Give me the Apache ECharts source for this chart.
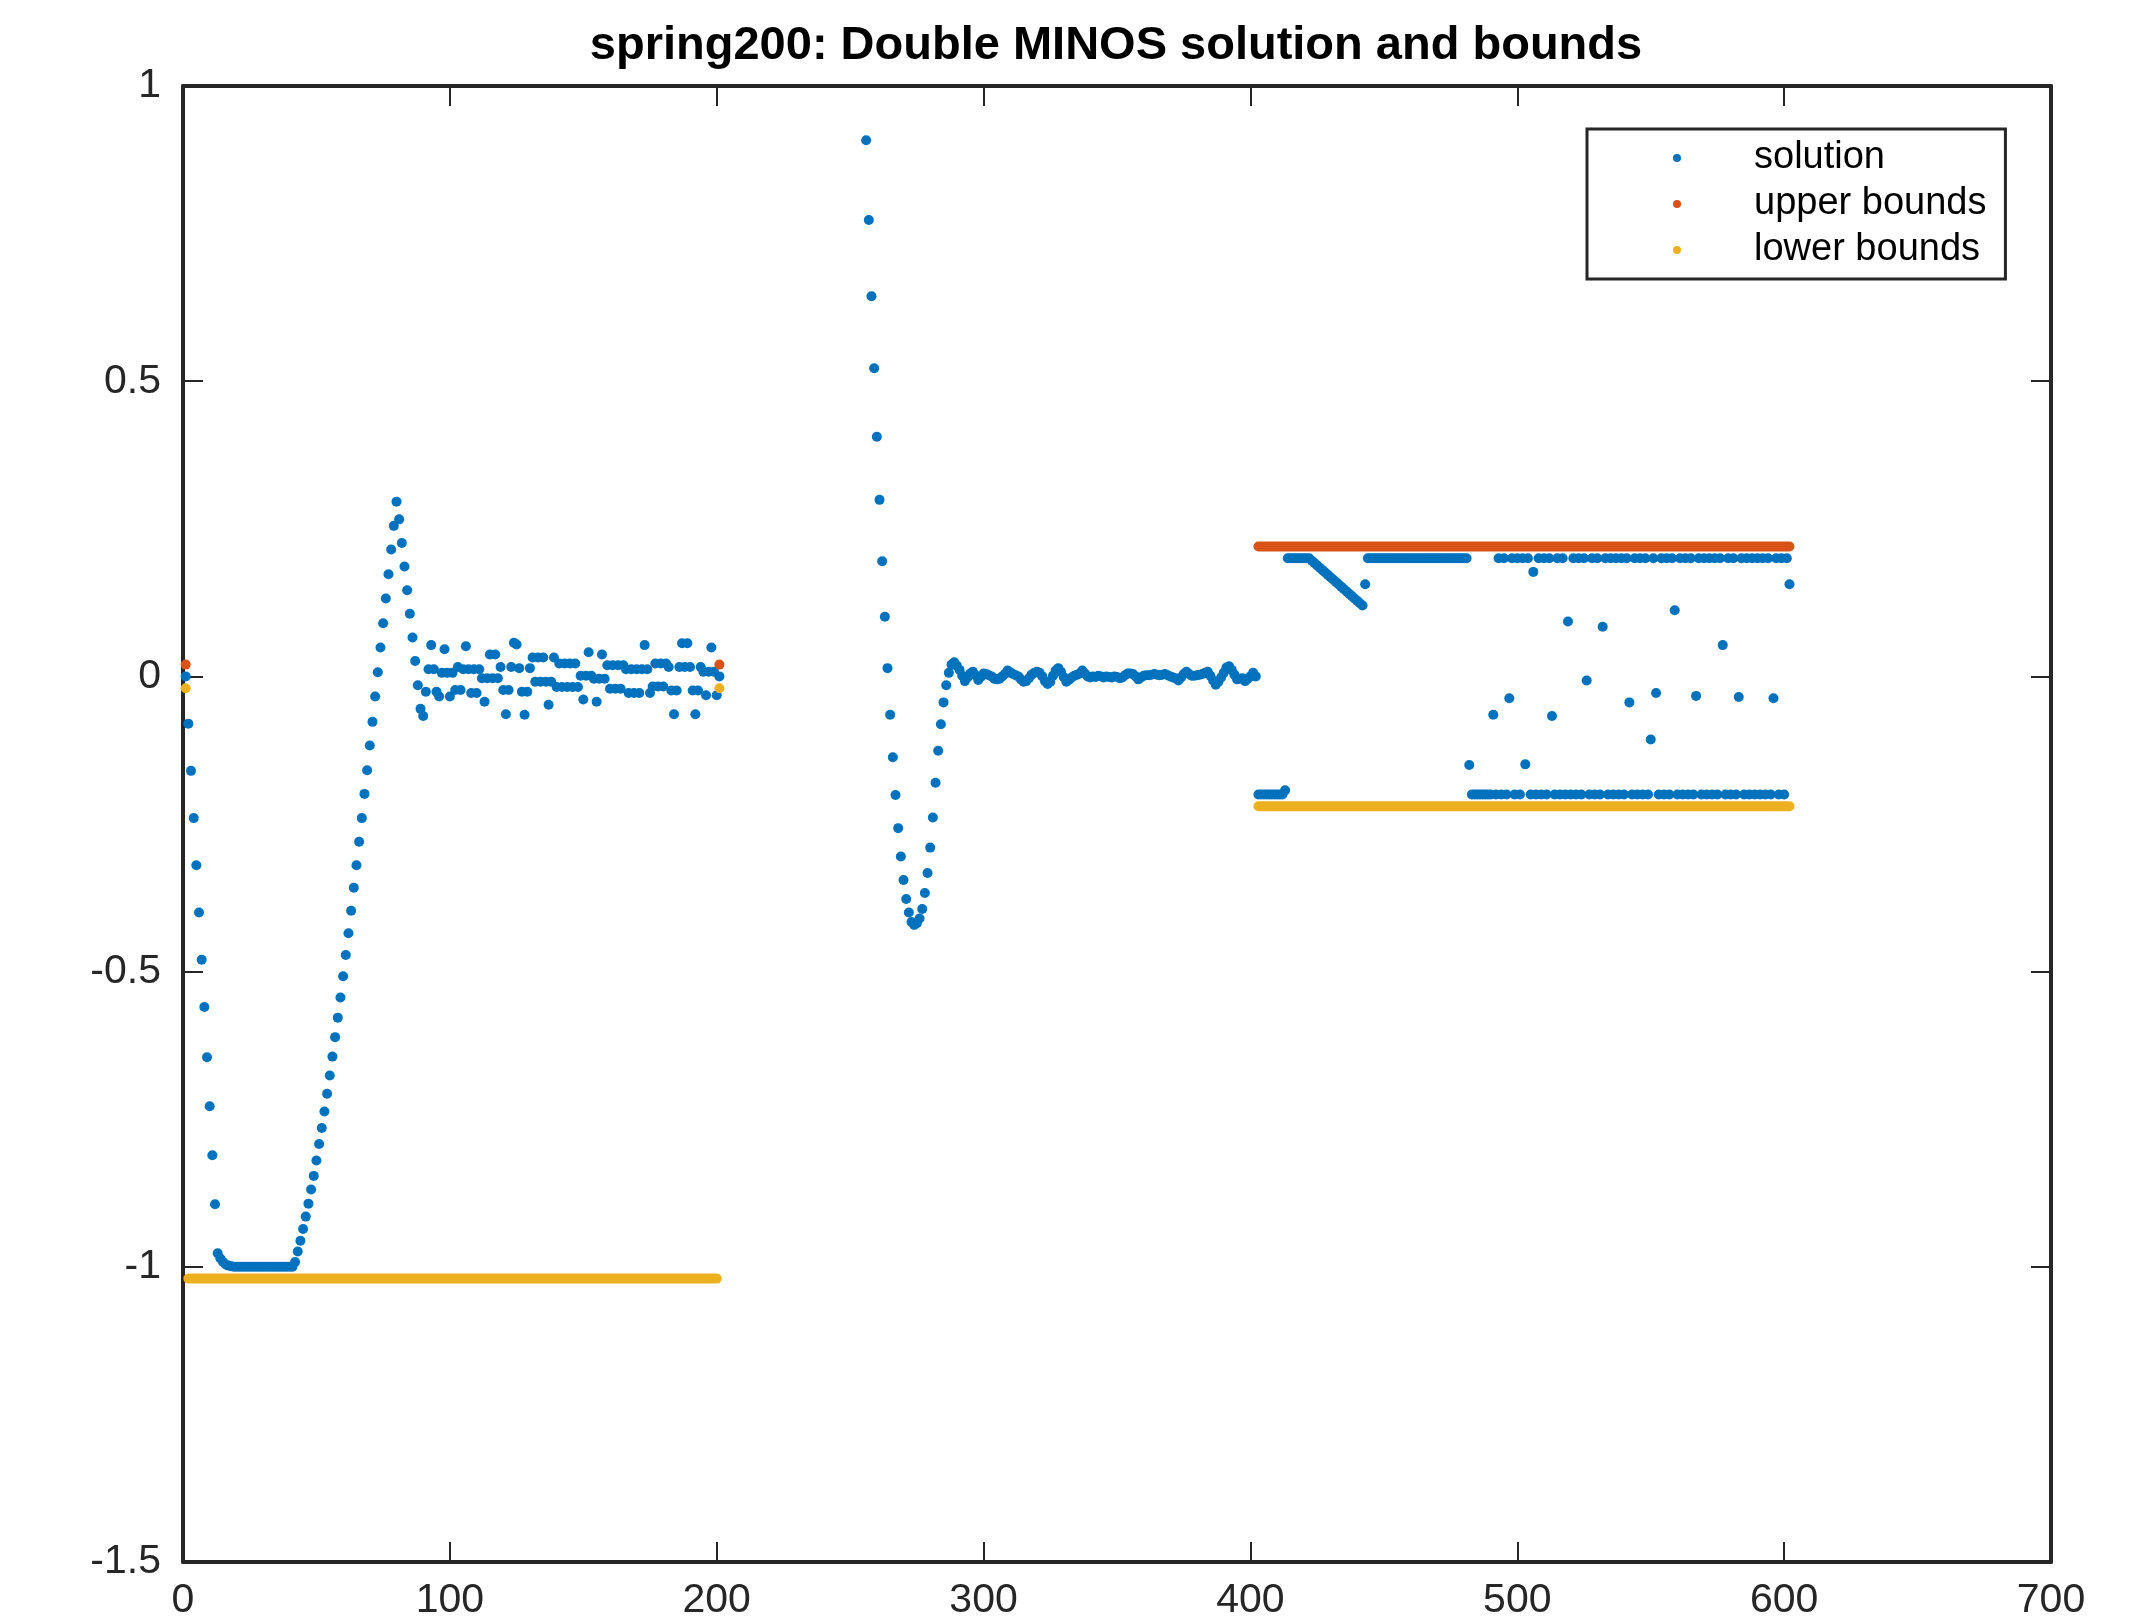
<!DOCTYPE html>
<html>
<head>
<meta charset="utf-8">
<title>spring200</title>
<script src="https://cdn.jsdelivr.net/npm/echarts/dist/echarts.min.js"></script>
<style>
  html, body { margin: 0; padding: 0; background: #fff; }
  #chart { width: 2154px; height: 1617px; }
</style>
</head>
<body>
<div id="chart"></div>
<script>
// solution, block 1 (positions), index 1..201
var solStart1 = 1;
var solution1 = [
  0, -0.08, -0.16, -0.24, -0.32, -0.40, -0.48, -0.56, -0.645, -0.728,
  -0.811, -0.894, -0.977, -0.986, -0.992, -0.996, -0.998, -0.999, -1.0, -1.0,
  -1.0, -1.0, -1.0, -1.0, -1.0, -1.0, -1.0, -1.0, -1.0, -1.0,
  -1.0, -1.0, -1.0, -1.0, -1.0, -1.0, -1.0, -1.0, -1.0, -1.0,
  -1.0, -0.992, -0.974, -0.956, -0.936, -0.915, -0.893, -0.869, -0.846, -0.820,
  -0.792, -0.765, -0.737, -0.707, -0.676, -0.644, -0.611, -0.578, -0.544, -0.508,
  -0.472, -0.435, -0.397, -0.358, -0.320, -0.280, -0.240, -0.199, -0.159, -0.117,
  -0.077, -0.034, 0.007, 0.049, 0.090, 0.132, 0.173, 0.215, 0.255, 0.296,
  0.266, 0.226, 0.186, 0.146, 0.106, 0.066, 0.026, -0.015, -0.055, -0.067,
  -0.026, 0.012, 0.053, 0.012, -0.026, -0.034, 0.006, 0.046, 0.006, -0.034,
  0.006, -0.023, 0.016, -0.023, 0.012, 0.051, 0.012, -0.028, 0.012, -0.028,
  0.012, -0.003, -0.043, -0.003, 0.037, -0.003, 0.037, -0.003, 0.016, -0.023,
  -0.064, -0.023, 0.016, 0.057, 0.054, 0.014, -0.026, -0.065, -0.026, 0.014,
  0.032, -0.009, 0.032, -0.009, 0.032, -0.009, -0.048, -0.009, 0.032, -0.018,
  0.022, -0.018, 0.022, -0.018, 0.022, -0.018, 0.022, -0.018, 0.001, -0.039,
  0.001, 0.041, 0.001, -0.004, -0.043, -0.004, 0.037, -0.004, 0.019, -0.021,
  0.019, -0.021, 0.019, -0.021, 0.019, 0.012, -0.028, 0.012, -0.028, 0.012,
  -0.028, 0.012, 0.053, 0.012, -0.028, -0.017, 0.022, -0.017, 0.022, -0.017,
  0.022, 0.016, -0.024, -0.064, -0.024, 0.016, 0.056, 0.016, 0.056, 0.016,
  -0.024, -0.064, -0.024, 0.016, 0.008, -0.032, 0.008, 0.049, 0.008, -0.032,
  0
];

// solution, block 2 (velocities), visible part index 256..402
var solStart2 = 256;
var solution2 = [
  0.908, 0.773, 0.644, 0.522, 0.406, 0.299, 0.195, 0.101, 0.014, -0.065,
  -0.137, -0.201, -0.257, -0.305, -0.345, -0.377, -0.400, -0.416, -0.421, -0.418,
  -0.410, -0.394, -0.367, -0.333, -0.290, -0.239, -0.180, -0.126, -0.081, -0.044,
  -0.015, 0.006, 0.020, 0.024, 0.018, 0.011, 0.001, -0.008, -0.002, 0.005,
  0.008, 0.002, -0.006, -0.001, 0.005, 0.004, 0.002, 0.0, -0.004, -0.005,
  -0.004, 0.0, 0.004, 0.010, 0.007, 0.004, 0.002, 0.0, -0.005, -0.009,
  -0.008, -0.003, 0.003, 0.006, 0.008, 0.006, 0.0, -0.008, -0.013, -0.009,
  0.001, 0.010, 0.014, 0.008, -0.001, -0.009, -0.006, -0.002, 0.001, 0.003,
  0.005, 0.010, 0.005, 0.0, -0.002, 0.0, -0.001, 0.001, 0.0, -0.002,
  0.0, -0.001, -0.002, 0.0, -0.001, -0.003, -0.002, 0.002, 0.005, 0.005,
  0.004, 0.0, -0.005, -0.002, 0.001, 0.002, 0.002, 0.003, 0.004, 0.003,
  0.002, 0.003, 0.004, 0.002, 0.0, -0.002, -0.003, -0.007, -0.002, 0.004,
  0.008, 0.004, 0.001, 0.001, 0.002, 0.003, 0.004, 0.006, 0.008, 0.001,
  -0.007, -0.014, -0.009, -0.002, 0.006, 0.015, 0.017, 0.011, 0.003, -0.005,
  -0.004, -0.003, -0.008, -0.004, 0.0, 0.006, 0.0
];

// solution, block 3 (controls), index 403..602
var solStart3 = 403;
var solution3 = [
  -0.2, -0.2, -0.2, -0.2, -0.2, -0.2, -0.2, -0.2, -0.2, -0.2,
  -0.193, 0.2, 0.2, 0.2, 0.2, 0.2, 0.2, 0.2, 0.2, 0.2,
  0.196, 0.192, 0.188, 0.184, 0.180, 0.176, 0.172, 0.168, 0.164, 0.160,
  0.156, 0.152, 0.148, 0.144, 0.140, 0.136, 0.132, 0.128, 0.124, 0.120,
  0.156, 0.2, 0.2, 0.2, 0.2, 0.2, 0.2, 0.2, 0.2, 0.2,
  0.2, 0.2, 0.2, 0.2, 0.2, 0.2, 0.2, 0.2, 0.2, 0.2,
  0.2, 0.2, 0.2, 0.2, 0.2, 0.2, 0.2, 0.2, 0.2, 0.2,
  0.2, 0.2, 0.2, 0.2, 0.2, 0.2, 0.2, 0.2, 0.2, -0.150,
  -0.2, -0.2, -0.2, -0.2, -0.2, -0.2, -0.2, -0.2, -0.065, -0.2,
  0.2, -0.2, 0.2, -0.2, -0.037, 0.2, -0.2, 0.2, -0.2, 0.2,
  -0.149, 0.2, -0.2, 0.177, -0.2, 0.2, -0.2, 0.2, -0.2, 0.2,
  -0.067, -0.2, 0.2, -0.2, 0.2, -0.2, 0.093, -0.2, 0.2, -0.2,
  0.2, -0.2, 0.2, -0.007, -0.2, 0.2, -0.2, 0.2, -0.2, 0.084,
  0.2, -0.2, 0.2, -0.2, 0.2, -0.2, 0.2, -0.2, 0.2, -0.044,
  -0.2, 0.2, -0.2, 0.2, -0.2, 0.2, -0.2, -0.107, 0.2, -0.028,
  -0.2, 0.2, -0.2, 0.2, -0.2, 0.2, 0.112, -0.2, 0.2, -0.2,
  0.2, -0.2, 0.2, -0.2, -0.033, 0.2, -0.2, 0.2, -0.2, 0.2,
  -0.2, 0.2, -0.2, 0.2, 0.053, -0.2, 0.2, -0.2, 0.2, -0.2,
  -0.035, 0.2, -0.2, 0.2, -0.2, 0.2, -0.2, 0.2, -0.2, 0.2,
  -0.2, 0.2, -0.2, -0.037, 0.2, -0.2, 0.2, -0.2, 0.2, 0.156
];

// bounds: single points [index, value] and constant runs [fromIndex, toIndex, value]
var upperDots = [[1, 0.02], [201, 0.02]];
var upperRuns = [[403, 602, 0.22]];
var lowerDots = [[1, -0.02], [201, -0.02]];
var lowerRuns = [[2, 200, -1.02], [403, 602, -0.22]];

var xTicks = { min: 0, max: 700, step: 100 };
var yTicks = { min: -1.5, max: 1, step: 0.5 };

var FONT = '"Liberation Sans", Arial, Helvetica, sans-serif';
var AXIS = '#262626';
var BLUE = '#0072BD', ORANGE = '#D95319', YELLOW = '#EDB120';
var DOT = 10;

function toPoints(start, values) {
  return values.map(function (v, i) { return [start + i, v]; });
}

var solutionPoints = []
  .concat(toPoints(solStart1, solution1))
  .concat(toPoints(solStart2, solution2))
  .concat(toPoints(solStart3, solution3));

function runSeries(name, runs, color) {
  return runs.map(function (r) {
    return {
      name: name,
      type: 'line',
      data: [[r[0], r[2]], [r[1], r[2]]],
      symbol: 'none',
      silent: true,
      lineStyle: { color: color, width: DOT, cap: 'round', opacity: 1 },
      z: 3
    };
  });
}

function xAxisDef(pos, labels) {
  return {
    type: 'value', position: pos,
    min: xTicks.min, max: xTicks.max, interval: xTicks.step,
    axisLine: { show: true, onZero: false, lineStyle: { color: AXIS, width: 4 } },
    axisTick: { show: true, inside: true, length: 20, lineStyle: { color: AXIS, width: 2 } },
    axisLabel: { show: labels, fontSize: 41, color: AXIS, fontFamily: FONT, margin: 18 },
    splitLine: { show: false }
  };
}
function yAxisDef(pos, labels) {
  return {
    type: 'value', position: pos,
    min: yTicks.min, max: yTicks.max, interval: yTicks.step,
    axisLine: { show: true, onZero: false, lineStyle: { color: AXIS, width: 4 } },
    axisTick: { show: true, inside: true, length: 20, lineStyle: { color: AXIS, width: 2 } },
    axisLabel: { show: labels, fontSize: 41, color: AXIS, fontFamily: FONT, margin: 22 },
    splitLine: { show: false }
  };
}

var chart = echarts.init(document.getElementById('chart'), null, { renderer: 'canvas' });

var option = {
  animation: false,
  backgroundColor: '#ffffff',
  graphic: [{
    type: 'text',
    x: 1116, y: 46,
    style: {
      text: 'spring200: Double MINOS solution and bounds',
      font: 'bold 47px ' + FONT,
      fill: '#000',
      textAlign: 'center',
      textVerticalAlign: 'middle'
    }
  }],
  grid: { left: 183, right: 103, top: 86, bottom: 55, containLabel: false, outerBoundsMode: 'none' },
  xAxis: [xAxisDef('bottom', true), xAxisDef('top', false)],
  yAxis: [yAxisDef('left', true), yAxisDef('right', false)],
  legend: {
    data: ['solution', 'upper bounds', 'lower bounds'],
    orient: 'vertical',
    left: 1587, top: 129,
    padding: [6, 19, 6, 86],
    itemGap: 0,
    itemWidth: 8, itemHeight: 8,
    icon: 'circle',
    selectedMode: false,
    borderColor: AXIS, borderWidth: 3,
    backgroundColor: '#fff',
    textStyle: { fontSize: 38, color: '#000', fontFamily: FONT, lineHeight: 46, padding: [0, 0, 0, 68] }
  },
  series: [
    {
      name: 'solution', type: 'scatter',
      data: solutionPoints,
      symbolSize: DOT,
      itemStyle: { color: BLUE, opacity: 1 },
      emphasis: { disabled: true },
      z: 2
    },
    {
      name: 'upper bounds', type: 'scatter',
      data: upperDots, symbolSize: DOT,
      itemStyle: { color: ORANGE, opacity: 1 },
      emphasis: { disabled: true },
      z: 3
    },
    {
      name: 'lower bounds', type: 'scatter',
      data: lowerDots, symbolSize: DOT,
      itemStyle: { color: YELLOW, opacity: 1 },
      emphasis: { disabled: true },
      z: 3
    }
  ].concat(runSeries('upper bounds', upperRuns, ORANGE))
   .concat(runSeries('lower bounds', lowerRuns, YELLOW))
};

chart.setOption(option);
</script>
</body>
</html>
